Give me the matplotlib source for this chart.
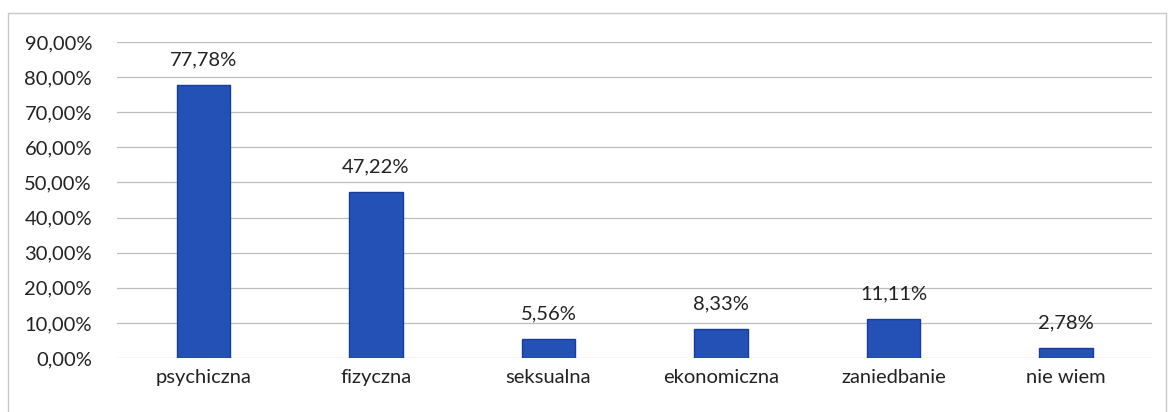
import numpy as np
import matplotlib.pyplot as plt
from matplotlib.patches import Rectangle

## dane
kategorie = ['psychiczna', 'fizyczna', 'seksualna', 'ekonomiczna', 'zaniedbanie', 'nie wiem']
wartosci = [77.78, 47.22, 5.56, 8.33, 11.11, 2.78]
ticki = [0, 10, 20, 30, 40, 50, 60, 70, 80, 90]

plt.rcParams['font.family'] = ['Lato', 'DejaVu Sans']

fig = plt.figure(figsize=(11.7, 4.12), dpi=100)
ax = fig.add_axes([0.1, 0.131, 0.885, 0.767])

## ramka wykresu
fig.patches.append(Rectangle((0.007, -0.05), 0.99, 1.018, transform=fig.transFigure,
                             fill=False, edgecolor='#c8c8c8', linewidth=1.0))

x = np.arange(len(kategorie))
ax.bar(x, wartosci, width=0.31, color='#2451b5', edgecolor='#173c9c', linewidth=1.0, zorder=3)

for xi, v in zip(x, wartosci):
    ax.annotate(f'{v:.2f}%'.replace('.', ','), (xi, v), xytext=(0, 18),
                textcoords='offset points', ha='center', va='center',
                fontsize=14.5, color='#222222')

ax.set_xlim(-0.5, len(kategorie) - 0.5)
ax.set_ylim(0, 90)
ax.set_yticks(ticki)
ax.set_yticklabels([f'{t:.2f}%'.replace('.', ',') for t in ticki])
ax.set_xticks(x)
ax.set_xticklabels(kategorie)
ax.tick_params(axis='both', length=0, labelsize=14.5, colors='#222222')
ax.tick_params(axis='y', pad=18)
ax.tick_params(axis='x', pad=8)
ax.grid(axis='y', color='#bdbdbd', linewidth=0.9, zorder=0)
ax.set_axisbelow(True)
for s in ax.spines.values():
    s.set_visible(False)

fig.savefig('out.png', dpi=100)
